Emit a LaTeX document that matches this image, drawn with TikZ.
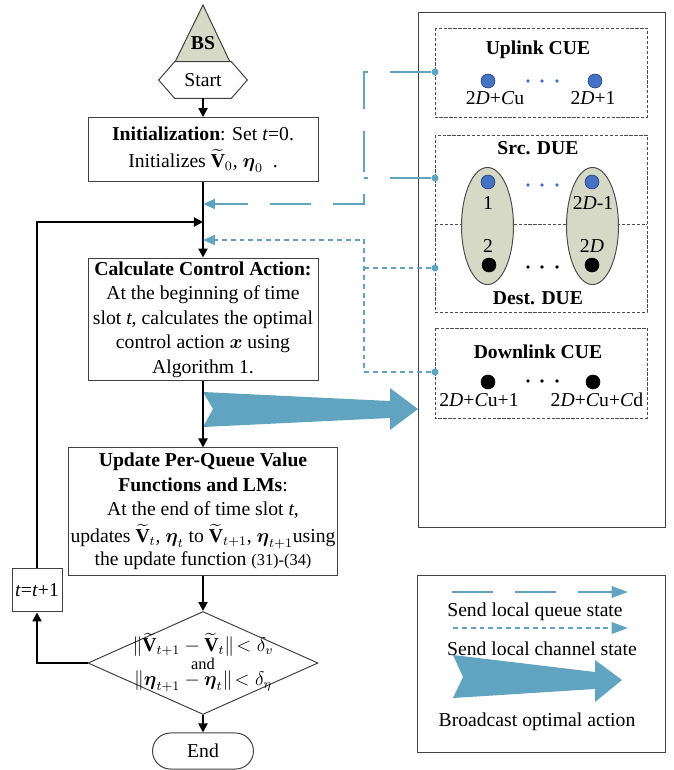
\documentclass[tikz,border=0pt]{standalone}
\usepackage{amsmath,amssymb}
\usepackage{fontspec}
\setmainfont{Liberation Serif}
\usepackage{xcolor}
\usepackage{tikz}
\usetikzlibrary{arrows.meta,calc,shapes.geometric}

\definecolor{linkblue}{RGB}{96,164,194}
\definecolor{uedot}{RGB}{68,114,196}
\definecolor{olivefill}{RGB}{214,217,198}

\begin{document}
\begin{tikzpicture}[
  x=0.61pt, y=-0.61pt,
  font=\fontsize{12}{15}\selectfont,
  thinline/.style={draw=black!75, line width=0.6pt},
  flowbox/.style={rectangle, thinline, align=center, inner sep=1pt, minimum width=140.3pt},
  groupbox/.style={draw=black!70, line width=0.5pt, dash pattern=on 2pt off 1pt},
  ue/.style={circle, draw=black, line width=0.4pt, minimum size=8.5pt, inner sep=0pt},
  srcue/.style={ue, fill=uedot, draw=uedot!60!black},
  dstue/.style={ue, fill=black},
  pairfill/.style={ellipse, draw=black!70, line width=0.6pt, fill=olivefill, minimum width=31.7pt, minimum height=71.4pt},
  portdot/.style={circle, fill=linkblue, minimum size=4.3pt, inner sep=0pt},
  title/.style={font=\fontsize{12}{15}\selectfont\bfseries},
  uelabel/.style={inner sep=0pt},
  flowarrow/.style={-{Triangle[length=5.5pt,width=5.5pt]}, line width=1.2pt},
  queuelink/.style={draw=linkblue, line width=1.2pt, dash pattern=on 25pt off 13.5pt},
  chanlink/.style={draw=linkblue, line width=1.2pt, dash pattern=on 3pt off 2.4pt},
  bluetip/.style={-{Triangle[length=7.3pt,width=6pt]}},
  legtip/.style={-{Triangle[length=10pt,width=7pt]}}
]
\useasboundingbox (0,0) rectangle (674,770);

% Base station and flow chart
\fill[olivefill] (203,5) -- (230,62) -- (175,62) -- cycle;
\draw[thinline] (203,5) -- (230,62) -- (175,62) -- cycle;
\node[title] (bs) at (203,43) {BS};
\node[minimum width=53.7pt, minimum height=22pt, inner sep=0pt] (start) at (203,80) {Start};
\draw[thinline, fill=white] (start.west) -- ($(start.north west)+(16,0)$) -- ($(start.north east)+(-16,0)$)
  -- (start.east) -- ($(start.south east)+(-16,0)$) -- ($(start.south west)+(16,0)$) -- cycle;
\node at (start) {Start};

\node[flowbox, minimum height=39pt] (init) at (203,149.5)
  {\textbf{Initialization}: Set \textit{t}=0.\\[1.5pt]
   Initializes $\widetilde{\textbf{V}}_{0}$, $\boldsymbol{\eta}_{0}$\ \ .};
\node[flowbox, minimum height=75pt] (calc) at (203,319.5)
  {\textbf{Calculate Control Action:}\\
   At the beginning of time\\
   slot \textit{t}, calculates the optimal\\
   control action $\boldsymbol{x}$ using\\
   Algorithm 1.};
\node[flowbox, minimum height=77.5pt] (upd) at (203,511.5)
  {\textbf{Update Per-Queue Value}\\
   \textbf{Functions and LMs}:\\
   At the end of time slot \textit{t},\\[1.5pt]
   updates $\widetilde{\textbf{V}}_{t}$, $\boldsymbol{\eta}_{t}$ to $\widetilde{\textbf{V}}_{t+1}$, $\boldsymbol{\eta}_{t+1}$using\\[-1pt]
   the update function {\fontsize{10}{12}\selectfont(31)-(34)}};
\node[diamond, thinline, minimum width=140.3pt, minimum height=62.8pt, inner sep=0pt] (chk) at (203,663) {};
\node[inner sep=0pt] (chka) at (203,645) {$\|\widetilde{\textbf{V}}_{t+1}-\widetilde{\textbf{V}}_{t}\|\!<\delta_{v}$};
\node[inner sep=0pt, font=\fontsize{10}{11}\selectfont] (chkb) at (203,664) {and};
\node[inner sep=0pt] (chkc) at (203,681) {$\|\boldsymbol{\eta}_{t+1}-\boldsymbol{\eta}_{t}\|\!<\delta_{\eta}$};
\node[thinline, rounded corners=11pt, minimum width=61.6pt, minimum height=22pt, inner sep=0pt] (fin) at (203,751) {End};
\node[thinline, minimum width=30.5pt, minimum height=26.8pt, inner sep=0pt] (tt) at (37,590) {\textit{t}=\textit{t}+1};

% Broadcast arrow
\fill[linkblue] (203,392) -- (390,401) -- (390,388) -- (418,409) -- (390,430) -- (390,418) -- (203,427) -- (213,409) -- cycle;

% Flow arrows
\coordinate (qin) at (203,204);
\coordinate (loopin) at (203,222);
\coordinate (cin) at (203,240);
\draw[flowarrow] (start.south) -- (init.north);
\draw[flowarrow] (init.south) -- (calc.north);
\draw[flowarrow] (calc.south) -- (upd.north);
\draw[flowarrow] (upd.south) -- (chk.north);
\draw[flowarrow] (chk.south) -- (fin.north);
\draw[flowarrow] (chk.west) -| (tt.south);
\draw[flowarrow] (tt.north) |- (loopin);

% User equipment panel
\draw[thinline] (418,12) rectangle (665,527);
\draw[groupbox] (435,28) rectangle (647,117);
\draw[groupbox] (435,135) rectangle (647,312);
\draw[groupbox] (435,224) -- (647,224);
\draw[groupbox] (435,328) rectangle (647,418);

\node[title] (uplt) at (538,50) {Uplink CUE};
\node[srcue] (up1) at (488,81) {};
\node[srcue] (up2) at (595,81) {};
\foreach \x in {528,542,557} \fill[uedot] (\x,81) circle (1.1pt);
\node[uelabel] at (495,98) {2\textit{D}+\textit{C}u};
\node[uelabel] at (593,98) {2\textit{D}+1};

\node[title] (srct) at (538,148) {Src. DUE};
\node[pairfill] (pair1) at (487.5,226) {};
\node[pairfill] (pair2) at (592.5,226) {};
\node[srcue] (src1) at (488,182) {};
\node[srcue] (src2) at (592,182) {};
\foreach \x in {528,542,557} \fill[uedot] (\x,185) circle (1.1pt);
\node[uelabel] at (488,203) {1};
\node[uelabel] at (593,203) {2\textit{D}-1};
\node[uelabel] at (488,246) {2};
\node[uelabel] at (592,246) {2\textit{D}};
\node[dstue] (dst1) at (489,265) {};
\node[dstue] (dst2) at (592,265) {};
\foreach \x in {528,542,557} \fill[black] (\x,267) circle (1.1pt);
\node[title] (dstt) at (538,298) {Dest. DUE};

\node[title] (dwnt) at (538,352) {Downlink CUE};
\node[dstue] (dw1) at (488,382) {};
\node[dstue] (dw2) at (593,382) {};
\foreach \x in {528,542,557} \fill[black] (\x,381) circle (1.1pt);
\node[uelabel] at (479,400) {2\textit{D}+\textit{C}u+1};
\node[uelabel] at (597,400) {2\textit{D}+\textit{C}u+\textit{C}d};

% Feedback links
\node[portdot] (uplport) at (435,72) {};
\node[portdot] (srcport) at (435,178) {};
\node[portdot] (dstport) at (435,268) {};
\node[portdot] (dwnport) at (435,372) {};
\coordinate (qturn) at (364,204);
\coordinate (cturn) at (364,240);
\draw[queuelink, bluetip] (uplport) -| (qturn) -- (qin);
\draw[queuelink] (srcport) -- (srcport -| qturn);
\draw[chanlink, bluetip] (dwnport) -| (cturn) -- (cin);
\draw[chanlink] (dstport) -- (dstport -| cturn);

% Legend
\draw[thinline] (417,575) rectangle (665,752);
\coordinate (lq0) at (452,592);
\coordinate (lq1) at (628,592);
\coordinate (lc0) at (453,628);
\coordinate (lc1) at (628,628);
\draw[queuelink, legtip] (lq0) -- (lq1);
\node (legq) at (535,612) {Send local queue state};
\draw[chanlink, legtip] (lc0) -- (lc1);
\node (legc) at (542,649) {Send local channel state};
\fill[linkblue] (453,655) -- (595,672) -- (595,660) -- (622,680) -- (595,702) -- (595,689) -- (453,698) -- (463,677) -- cycle;
\node (legb) at (537,722) {Broadcast optimal action};

\end{tikzpicture}
\end{document}
